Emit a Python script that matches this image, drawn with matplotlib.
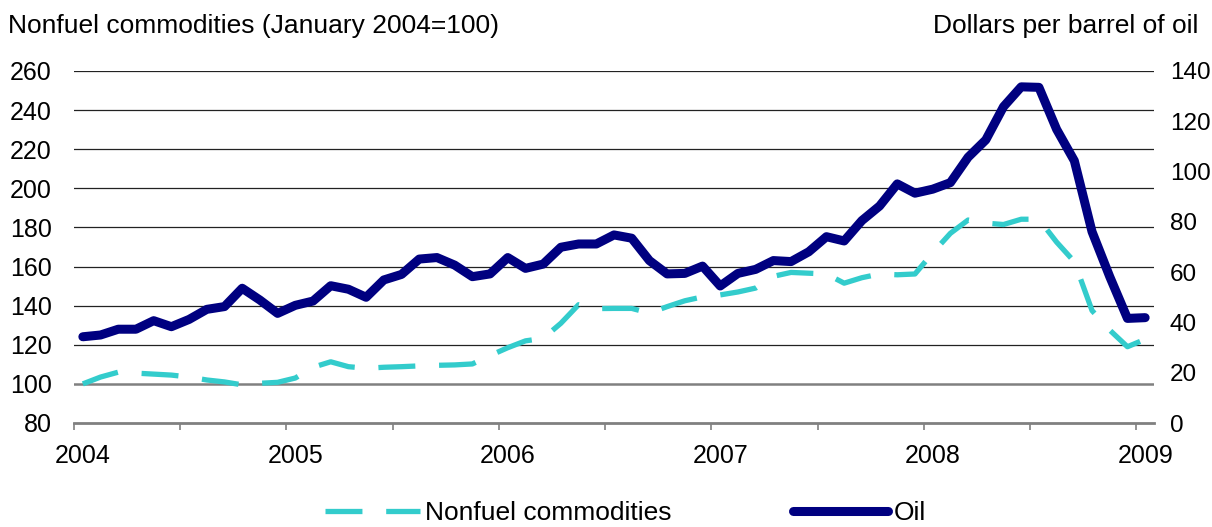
"""Nonfuel commodities index vs oil price, monthly 2004-2009."""
import numpy as np
import matplotlib
matplotlib.use('Agg')
import matplotlib.pyplot as plt
from matplotlib.lines import Line2D

plt.rcParams['font.family'] = ['Liberation Sans', 'DejaVu Sans']

START_YEAR = 2004
# monthly values, Jan 2004 .. Jan 2009
nonfuel = [100.0, 103.5, 106.0, 105.5, 105.0, 104.5, 103.5, 102.0, 101.0, 99.5,
           100.3, 100.8, 103.0, 108.5, 111.3, 108.8, 108.0, 108.5, 108.8, 109.2,
           109.5, 109.7, 110.2, 114.5, 118.5, 122.0, 123.3, 131.0, 140.5, 138.5,
           138.6, 138.6, 136.2, 139.5, 142.5, 144.5, 145.5, 147.0, 149.0, 155.0,
           157.0, 156.6, 156.2, 151.5, 154.3, 156.2, 155.8, 156.2, 167.0, 177.0,
           183.8, 182.2, 181.5, 184.2, 184.2, 172.5, 162.5, 137.5, 127.5, 119.0,
           122.8]
oil = [34.3, 35.0, 37.3, 37.3, 40.7, 38.3, 41.2, 45.2, 46.3, 53.6,
       48.9, 43.6, 46.8, 48.5, 54.6, 53.2, 50.0, 56.9, 59.1, 65.2,
       65.8, 62.8, 58.2, 59.3, 65.8, 61.5, 63.2, 69.9, 71.2, 71.2,
       74.8, 73.5, 64.6, 59.3, 59.5, 62.4, 54.5, 59.5, 61.1, 64.6,
       64.2, 68.1, 74.1, 72.4, 80.5, 86.3, 95.1, 91.4, 93.0, 95.6,
       105.7, 112.6, 125.8, 133.7, 133.5, 116.8, 104.3, 76.1, 58.2, 41.6,
       41.9]
year_labels = ['2004', '2005', '2006', '2007', '2008', '2009']
left_ticks = [80, 100, 120, 140, 160, 180, 200, 220, 240, 260]
right_ticks = [0, 20, 40, 60, 80, 100, 120, 140]

NAVY = '#000080'
TEAL = '#33CCCC'
FS = 18
FS_TITLE = 19

t = START_YEAR + (np.arange(len(oil)) + 0.5) / 12

fig = plt.figure(figsize=(12.12, 5.27), dpi=100)
ax = fig.add_axes([74 / 1212, 1 - 423 / 527, (1154 - 74) / 1212, (423 - 71) / 527])
ax2 = ax.twinx()

ax.set_xlim(START_YEAR, START_YEAR + 5 + 1 / 12)
ax.set_ylim(80, 260)
ax2.set_ylim(0, 140)

# grid lines (100 line drawn grey like the original)
for v in left_ticks[2:]:
    ax.axhline(v, color='#222222', lw=0.9, zorder=1)
ax.axhline(100, color='#808080', lw=1.8, zorder=1)

ax.plot(t, nonfuel, color=TEAL, lw=3.8, dashes=(7, 4.5),
        dash_capstyle='butt', zorder=3)
ax2.plot(t, oil, color=NAVY, lw=6.5, solid_capstyle='round',
         solid_joinstyle='round', zorder=3)

for a in (ax, ax2):
    for s in ('top', 'left', 'right'):
        a.spines[s].set_visible(False)
ax2.spines['bottom'].set_visible(False)
ax.spines['bottom'].set_color('#808080')
ax.spines['bottom'].set_linewidth(2)

# half-year tick marks, year labels centred on January
ax.set_xticks(np.arange(START_YEAR, START_YEAR + 5.01, 0.5))
ax.set_xticklabels([])
ax.tick_params(axis='x', which='major', direction='out', length=5,
               width=1.2, color='#808080')
ax.set_xticks([START_YEAR + i + 1 / 24 for i in range(len(year_labels))], minor=True)
ax.set_xticklabels(year_labels, minor=True, fontsize=FS)
ax.tick_params(axis='x', which='minor', length=0, pad=15)

ax.set_yticks(left_ticks)
ax.tick_params(axis='y', length=0, pad=16, labelsize=FS)
ax2.set_yticks(right_ticks)
ax2.tick_params(axis='y', length=0, pad=11.5, labelsize=17.5)

fig.text(8 / 1212, 1 - 33 / 527, 'Nonfuel commodities (January 2004=100)',
         fontsize=FS_TITLE, ha='left', va='baseline')
fig.text(1198 / 1212, 1 - 33 / 527, 'Dollars per barrel of oil',
         fontsize=FS_TITLE, ha='right', va='baseline')

handles = [Line2D([], [], color=TEAL, lw=3.8, dashes=(7, 4.5)),
           Line2D([], [], color=NAVY, lw=6.5, solid_capstyle='round')]
fig.legend(handles, ['Nonfuel commodities', 'Oil'], loc='center',
           bbox_to_anchor=(0.516, 1 - 513 / 527), ncol=2, frameon=False,
           handlelength=3.6, handletextpad=0.2, columnspacing=4.6,
           fontsize=FS_TITLE, borderpad=0.1)

fig.savefig('out.png', dpi=100)
